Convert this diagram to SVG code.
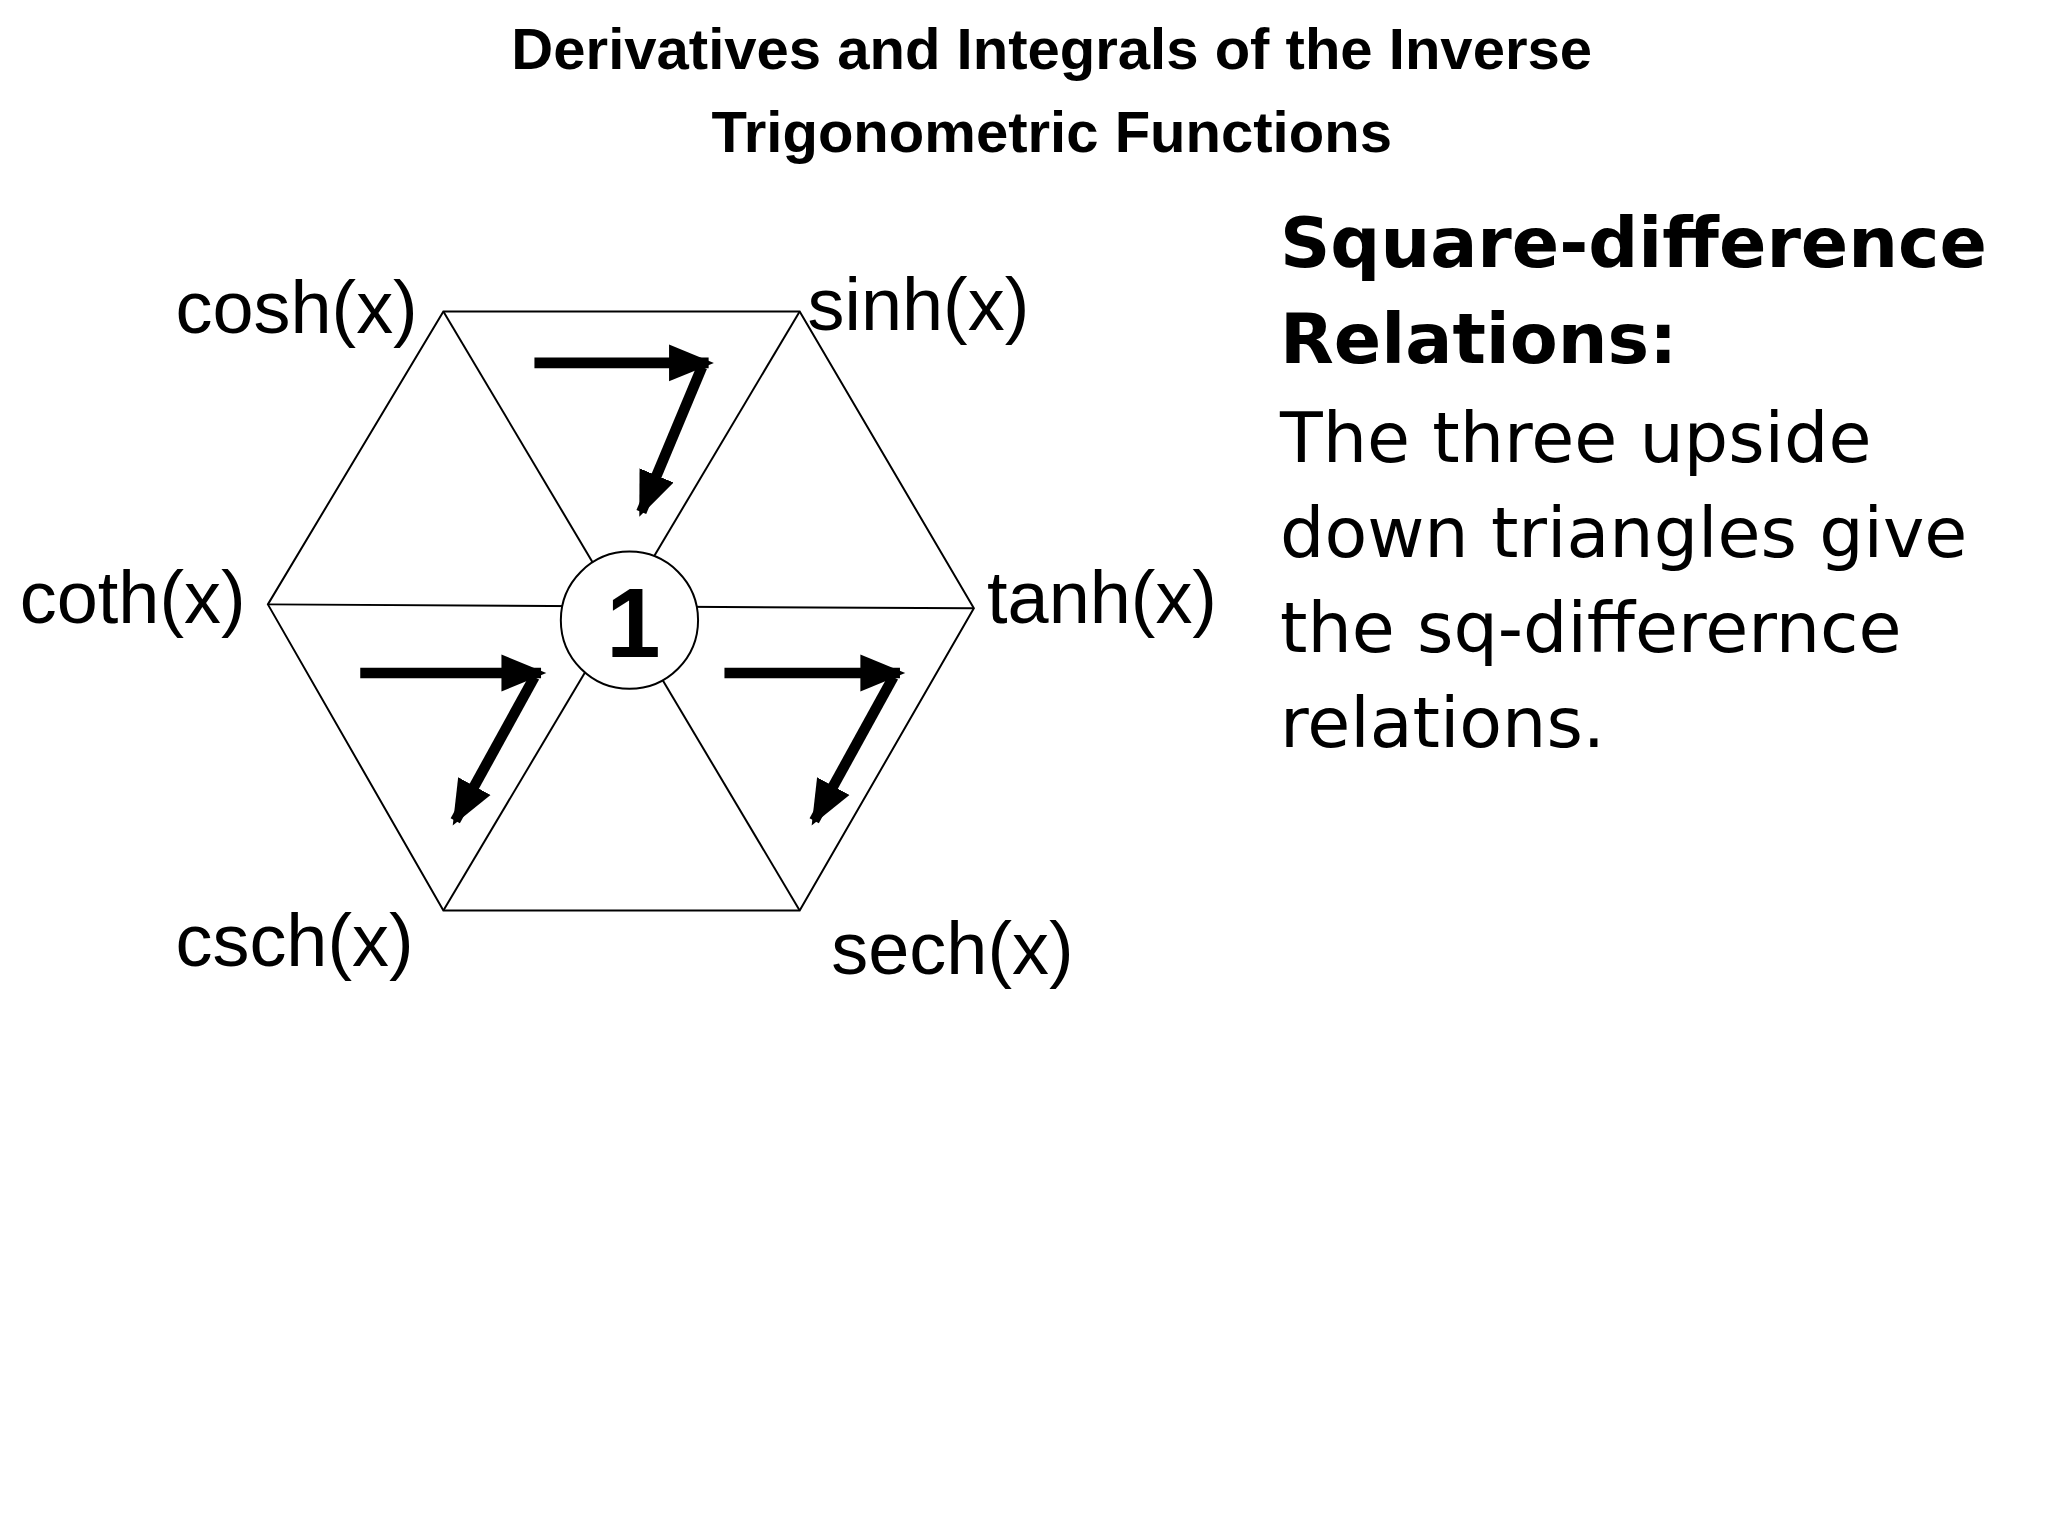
<svg xmlns="http://www.w3.org/2000/svg" width="2048" height="1536" viewBox="0 0 2048 1536">
<style>
.t{font-family:"Liberation Sans",Arial,sans-serif;font-weight:bold;font-size:44px;text-anchor:middle}
.lab{font-family:"Liberation Sans",Arial,sans-serif;font-size:56px}
.v{font-family:"DejaVu Sans",Verdana,sans-serif;font-size:53px}
.e{stroke:#000;stroke-width:1.5;fill:none}
.a{stroke:#000;stroke-width:8;fill:none;marker-end:url(#ah)}
</style>
<defs>
<marker id="ah" markerUnits="userSpaceOnUse" markerWidth="40" markerHeight="40" viewBox="0 0 40 40" refX="30" refY="20" orient="auto">
<path d="M0,6 L34,20 L0,34 Z" fill="#000"/>
</marker>
</defs>
<rect width="2048" height="1536" fill="#fff"/>
<g transform="scale(1.3196)">
<g id="title">
<text class="t" x="797" y="52">Derivatives and Integrals of the Inverse</text>
<text class="t" x="797" y="115">Trigonometric Functions</text>
</g>
<g id="connectors">
<polygon class="e" points="336,236 606,236 738,461 606,690 336,690 203,458"/>
<line class="e" x1="203" y1="458" x2="738" y2="461"/>
<line class="e" x1="336" y1="236" x2="606" y2="690"/>
<line class="e" x1="606" y1="236" x2="336" y2="690"/>
<line class="a" x1="405" y1="275" x2="537" y2="275"/>
<line class="a" x1="532" y1="278" x2="486" y2="388"/>
<line class="a" x1="273" y1="510" x2="410" y2="510"/>
<line class="a" x1="405" y1="513" x2="345" y2="622"/>
<line class="a" x1="549" y1="510" x2="682" y2="510"/>
<line class="a" x1="677" y1="513" x2="617" y2="622"/>
</g>
<g id="center"><circle cx="477" cy="470" r="52" fill="#fff" stroke="#000" stroke-width="1.5"/>
<text x="480" y="498" font-family="Liberation Sans,Arial,sans-serif" font-weight="bold" font-size="74" text-anchor="middle">1</text></g>
<g id="cosh"><text class="lab" x="133" y="252">cosh(x)</text></g>
<g id="sinh"><text class="lab" x="612" y="250">sinh(x)</text></g>
<g id="coth"><text class="lab" x="15" y="472">coth(x)</text></g>
<g id="tanh"><text class="lab" x="748" y="472">tanh(x)</text></g>
<g id="csch"><text class="lab" x="133" y="732">csch(x)</text></g>
<g id="sech"><text class="lab" x="630" y="738">sech(x)</text></g>
<g id="note">
<text class="v" x="970" y="202" font-weight="bold" font-size="56">Square-difference</text>
<text class="v" x="970" y="275" font-weight="bold" font-size="56">Relations:</text>
<text class="v" x="970" y="350">The three upside</text>
<text class="v" x="970" y="422">down triangles give</text>
<text class="v" x="970" y="494">the sq-differernce</text>
<text class="v" x="970" y="566">relations.</text>
</g>
</g>
</svg>
